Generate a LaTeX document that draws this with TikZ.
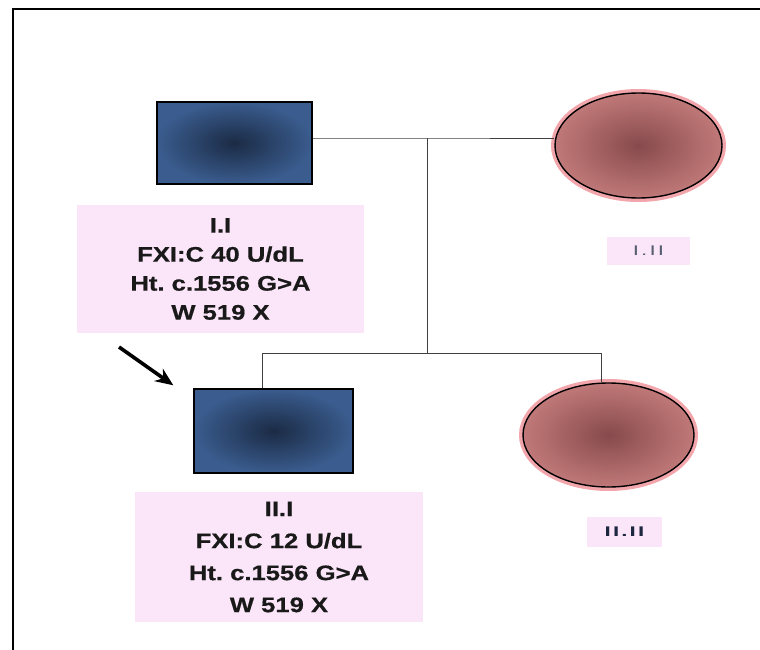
\documentclass[tikz,border=0pt]{standalone}
\usepackage{fontspec}
\usepackage{xcolor}
\usepackage{tikz}
\usetikzlibrary{arrows.meta,shapes.geometric}
\newfontfamily\pedfont[FakeStretch=1.22,FakeBold=0.6]{Liberation Sans}
\newfontfamily\idfont[FakeStretch=1.6,LetterSpace=15]{Liberation Sans}
\frenchspacing
\definecolor{malefill}{HTML}{3A5C8E}
\definecolor{malecore}{HTML}{1B2B45}
\definecolor{femfill}{HTML}{C07878}
\definecolor{femcore}{HTML}{874A4C}
\definecolor{femglow}{HTML}{F2A6AC}
\definecolor{infopink}{HTML}{FBE5F8}
\definecolor{idtext}{HTML}{1E2740}
\tikzset{
  male/.style 2 args={rectangle, draw=black, line width=1.4pt, inner sep=0pt,
    minimum width=#1, minimum height=#2, inner color=malecore, outer color=malefill},
  female/.style 2 args={ellipse, draw=black, line width=1.4pt, inner sep=0pt,
    minimum width=#1, minimum height=#2, inner color=femcore, outer color=femfill,
    preaction={draw=femglow, line width=8pt}},
  info box/.style={rectangle, fill=infopink, inner sep=0pt, align=center,
    text=black!90, font=\pedfont\bfseries\frenchspacing\fontsize{21}{#1}\selectfont},
  id box/.style={rectangle, fill=infopink, inner sep=0pt, text=idtext},
  pedline/.style={draw=black!75, line width=0.8pt},
}
\begin{document}
\begin{tikzpicture}[x=1pt,y=-1pt]
  \useasboundingbox (0,0) rectangle (760,650);
  \draw[line width=2.2pt] (760,9) -- (13,9) -- (13,650);
  \coordinate (mar) at (427,138);
  \coordinate (sibL) at (262,353);
  \coordinate (sibR) at (601,353);
  \coordinate (arrTail) at (119,347);
  \node[male={155pt}{82pt}] (I1) at (234.5,143) {};
  \node[female={167pt}{105pt}] (I2) at (638.5,145.5) {};
  \node[male={159pt}{84pt}] (II1) at (273.5,431) {};
  \node[female={171pt}{104pt}] (II2) at (608.5,435) {};
  \node[info box=29pt, minimum width=287pt, minimum height=128pt] (I1info) at (220.5,269)
    {I.I\\FXI:C 40 U/dL\\Ht. c.1556 G>A\\W 519 X};
  \node[info box=32pt, minimum width=288pt, minimum height=130pt] (II1info) at (279,557)
    {II.I\\FXI:C 12 U/dL\\Ht. c.1556 G>A\\W 519 X};
  \node[id box, minimum width=83pt, minimum height=28pt, text=idtext!75,
    font=\idfont\fontsize{14}{16}\selectfont] (I2id) at (648.5,251) {I.II};
  \node[id box, minimum width=75pt, minimum height=30pt,
    font=\idfont\bfseries\fontsize{14}{16}\selectfont] (II2id) at (624.5,532) {II.II};
  \draw[pedline] (I1.east |- mar) -- (mar) -- (I2.west |- mar);
  \draw[pedline] (mar) -- (mar |- sibL);
  \draw[pedline] (II1.north -| sibL) -- (sibL) -- (sibR) -- (sibR |- II2.north);
  \draw[line width=3.6pt, -{Stealth[length=18pt, width=15pt]}] (arrTail) -- ([shift={(-20,-3)}]II1.north west);
\end{tikzpicture}
\end{document}
